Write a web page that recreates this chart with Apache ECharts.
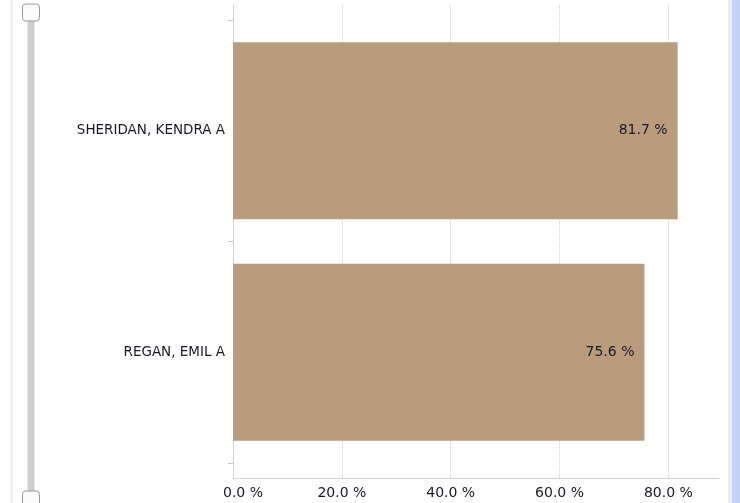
<!DOCTYPE html>
<html>
<head>
<meta charset="utf-8">
<script src="https://cdn.jsdelivr.net/npm/echarts@6/dist/echarts.min.js"></script>
<style>
  html, body { margin: 0; padding: 0; background: #fff; }
  #chart { width: 740px; height: 503px; }
</style>
</head>
<body>
<div id="chart"></div>
<script>
var names = ['SHERIDAN, KENDRA A', 'REGAN, EMIL A'];
var scores = [81.7, 75.6];
var axisMax = 89.3;

var chart = echarts.init(document.getElementById('chart'));
var textColor = '#1a1a26';
var font = 'DejaVu Sans';

var option = {
  animation: false,
  grid: [
    { left: 233, right: 21, top: 5, bottom: 25 },
    { left: 233, right: 21, top: 20, bottom: 40 }
  ],
  xAxis: [
    {
      gridIndex: 0,
      type: 'value',
      min: 0,
      max: axisMax,
      interval: 20,
      axisLine: { show: true, lineStyle: { color: '#d4d4d4' } },
      axisTick: { show: false },
      splitLine: {
        show: true,
        lineStyle: {
          type: 'dotted',
          color: ['#cfcfcf', '#cfcfcf', '#cfcfcf', '#cfcfcf', '#cfcfcf', 'rgba(0,0,0,0)']
        }
      },
      axisLabel: {
        showMaxLabel: false,
        margin: 8,
        color: textColor,
        fontFamily: font,
        fontSize: 14,
        formatter: function (v) {
          if (v === 0) return '{first|0.0 %}';
          return v.toFixed(1) + ' %';
        },
        rich: {
          first: { padding: [0, 0, 0, 20], color: textColor, fontFamily: font, fontSize: 14 }
        }
      }
    },
    {
      gridIndex: 1,
      type: 'value',
      min: 0,
      max: axisMax,
      show: false
    }
  ],
  yAxis: [
    {
      gridIndex: 0,
      type: 'value',
      axisLine: { show: true, lineStyle: { color: '#d4d4d4' } },
      axisTick: { show: false },
      axisLabel: { show: false },
      splitLine: { show: false }
    },
    {
      gridIndex: 1,
      type: 'category',
      data: names,
      inverse: true,
      axisLine: { show: false },
      axisTick: { show: true, length: 5, lineStyle: { color: '#cccccc' } },
      axisLabel: {
        margin: 8,
        color: textColor,
        fontFamily: font,
        fontSize: 13.5
      }
    }
  ],
  dataZoom: [
    {
      type: 'slider',
      yAxisIndex: 1,
      filterMode: 'none',
      start: 0,
      end: 100,
      orient: 'vertical',
      left: 27,
      top: 10,
      bottom: 4,
      width: 7,
      showDetail: false,
      showDataShadow: false,
      brushSelect: false,
      moveHandleSize: 0,
      backgroundColor: 'rgba(0,0,0,0)',
      borderColor: 'rgba(0,0,0,0)',
      fillerColor: '#cdcdcd',
      handleIcon: 'path://M3,0 h10 a3,3 0 0 1 3,3 v10 a3,3 0 0 1 -3,3 h-10 a3,3 0 0 1 -3,-3 v-10 a3,3 0 0 1 3,-3 z',
      handleSize: 17,
      handleStyle: { color: '#fafafa', borderColor: '#9a9a9a', borderWidth: 1 }
    }
  ],
  series: [
    {
      type: 'bar',
      xAxisIndex: 1,
      yAxisIndex: 1,
      data: scores,
      barCategoryGap: '20%',
      itemStyle: { color: '#b99c7d' },
      label: {
        show: true,
        position: 'insideRight',
        distance: 10,
        color: textColor,
        fontFamily: font,
        fontSize: 14,
        formatter: function (p) { return p.value.toFixed(1) + ' %'; }
      }
    }
  ],
  graphic: [
    { type: 'rect', left: 10, top: 0, shape: { width: 3, height: 503 }, style: { fill: '#f2f2f2' }, silent: true },
    { type: 'rect', left: 728, top: 0, shape: { width: 4, height: 503 }, style: { fill: '#ececec' }, silent: true },
    { type: 'rect', left: 732, top: 0, shape: { width: 8, height: 503 }, style: { fill: '#c4d4f8' }, silent: true }
  ]
};

chart.setOption(option);
</script>
</body>
</html>
